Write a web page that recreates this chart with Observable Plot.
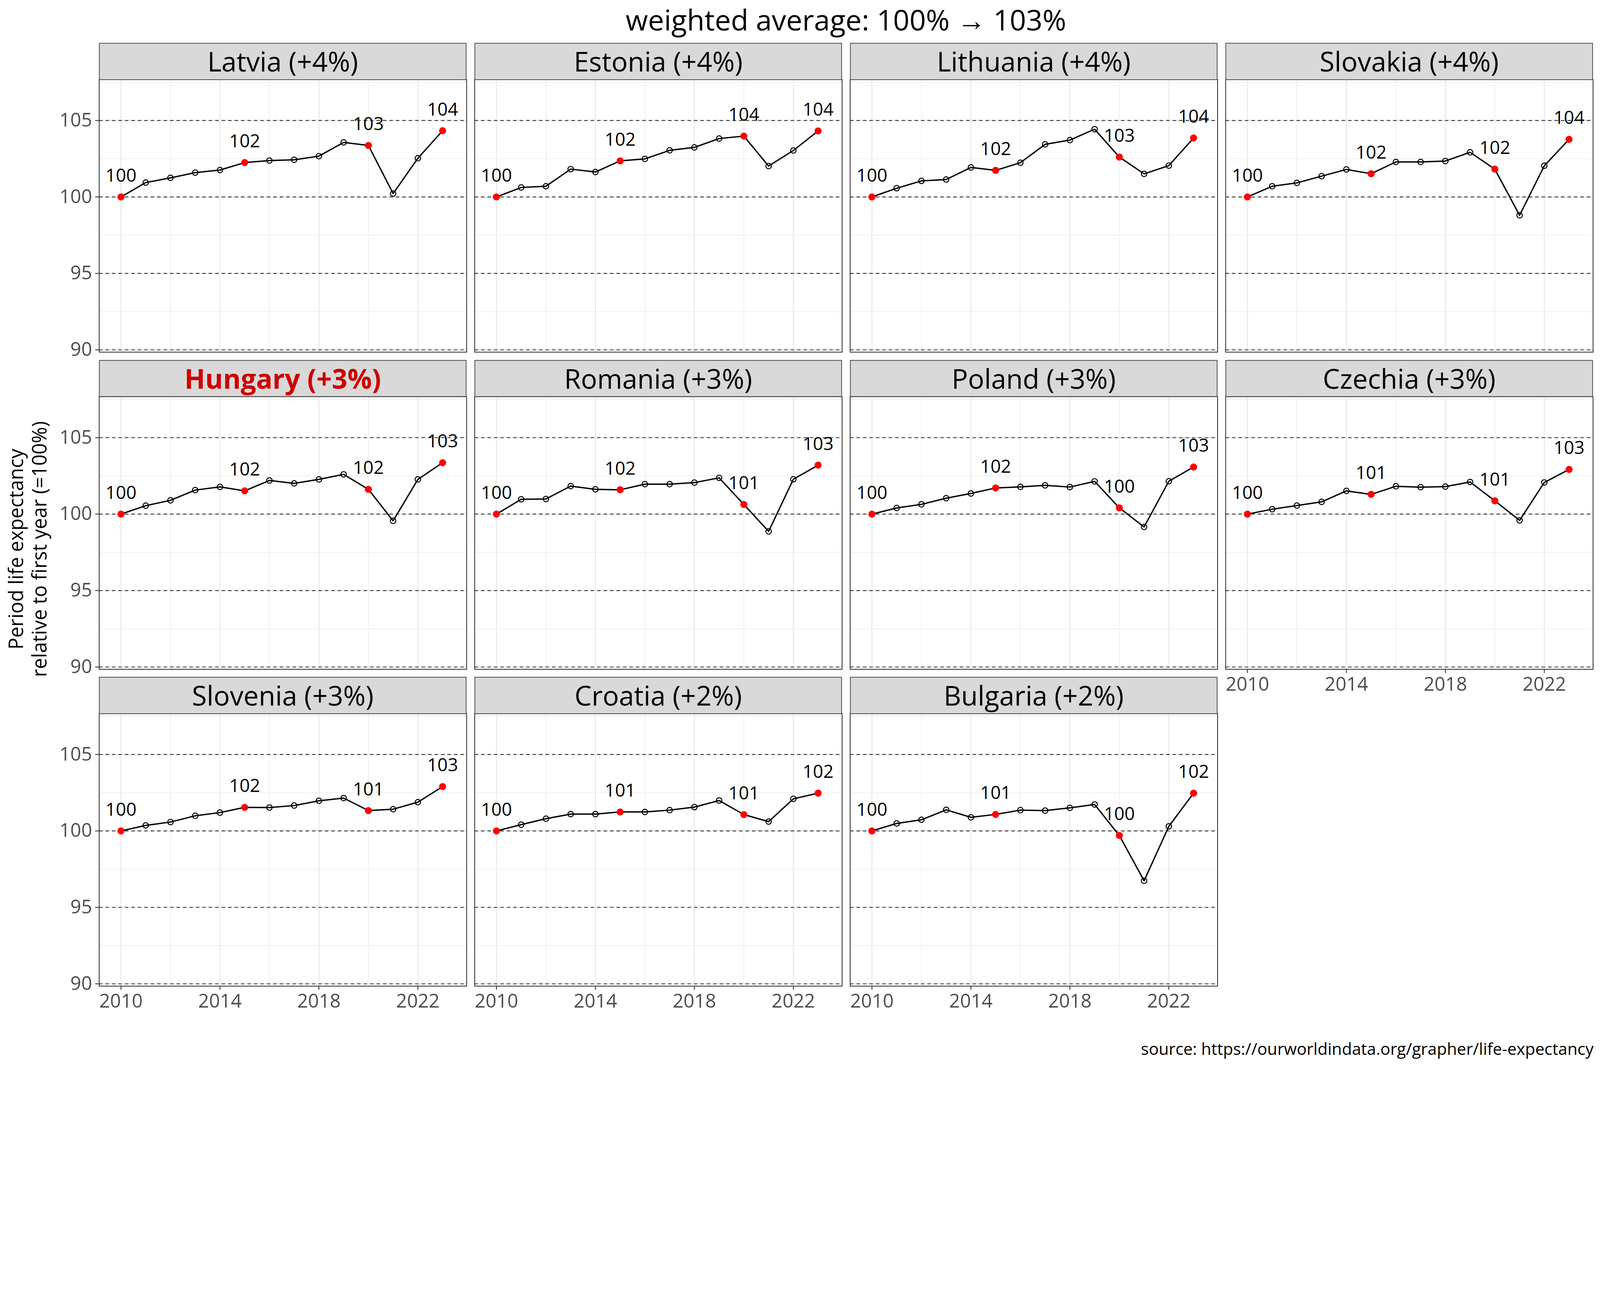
<!DOCTYPE html>
<html>
<head>
<meta charset="utf-8">
<script src="https://cdn.jsdelivr.net/npm/d3@7"></script>
<script src="https://cdn.jsdelivr.net/npm/@observablehq/plot@0.6"></script>
<style>
  html, body { margin: 0; padding: 0; background: #fff; overflow: hidden; }
  #wrap { position: relative; overflow: hidden; background: #fff; }
  #root { position: absolute; left: 0; top: 0; width: 4960px; height: 3307px; overflow: hidden; background: #fff;
          font-family: "Open Sans", "Noto Sans", sans-serif; color: #000; transform-origin: 0 0; }
  .strip { position: absolute; box-sizing: border-box; background: #D9D9D9; border: 2.6px solid #333;
           display: flex; align-items: center; justify-content: center; font-size: 84px; line-height: 1; white-space: nowrap; }
  .strip.hl { color: #CD0000; font-weight: bold; }
  .panel { position: absolute; }
  .title { position: absolute; text-align: center; font-size: 89px; line-height: 1; white-space: nowrap; }
  .caption { position: absolute; text-align: right; font-size: 51px; line-height: 1; white-space: nowrap; }
  .ytitle { position: absolute; text-align: center; font-size: 61px; line-height: 73px; white-space: nowrap;
            transform: rotate(-90deg); transform-origin: center center; }
</style>
</head>
<body>
<div id="wrap"><div id="root"></div></div>
<script>
// ---------------- data ----------------
const years = [2010, 2011, 2012, 2013, 2014, 2015, 2016, 2017, 2018, 2019, 2020, 2021, 2022, 2023];
const countries = ["Latvia", "Estonia", "Lithuania", "Slovakia", "Hungary", "Romania", "Poland", "Czechia", "Slovenia", "Croatia", "Bulgaria"];
const changeLabels = ["+4%", "+4%", "+4%", "+4%", "+3%", "+3%", "+3%", "+3%", "+3%", "+2%", "+2%"];
const highlight = "Hungary";
const labelYears = [2010, 2015, 2020, 2023];

const latvia    = [100, 100.94, 101.25, 101.59, 101.76, 102.25, 102.38, 102.43, 102.67, 103.57, 103.37, 100.22, 102.53, 104.33];
const estonia   = [100, 100.62, 100.70, 101.82, 101.63, 102.36, 102.49, 103.05, 103.24, 103.82, 103.98, 102.02, 103.04, 104.32];
const lithuania = [100, 100.57, 101.05, 101.14, 101.93, 101.74, 102.24, 103.44, 103.72, 104.43, 102.61, 101.51, 102.05, 103.86];
const slovakia  = [100, 100.70, 100.92, 101.36, 101.80, 101.52, 102.29, 102.29, 102.35, 102.92, 101.82, 98.80, 102.04, 103.77];
const hungary   = [100, 100.55, 100.90, 101.57, 101.78, 101.52, 102.20, 102.01, 102.27, 102.60, 101.62, 99.56, 102.27, 103.36];
const romania   = [100, 100.97, 100.99, 101.83, 101.62, 101.59, 101.96, 101.96, 102.06, 102.37, 100.63, 98.87, 102.28, 103.20];
const poland    = [100, 100.40, 100.64, 101.04, 101.35, 101.71, 101.78, 101.88, 101.77, 102.14, 100.41, 99.16, 102.15, 103.08];
const czechia   = [100, 100.32, 100.56, 100.80, 101.52, 101.29, 101.82, 101.76, 101.80, 102.10, 100.87, 99.59, 102.07, 102.92];
const slovenia  = [100, 100.36, 100.58, 100.99, 101.20, 101.54, 101.53, 101.66, 101.97, 102.15, 101.33, 101.42, 101.88, 102.90];
const croatia   = [100, 100.41, 100.80, 101.10, 101.10, 101.24, 101.24, 101.36, 101.56, 101.99, 101.07, 100.61, 102.10, 102.47];
const bulgaria  = [100, 100.49, 100.73, 101.38, 100.89, 101.08, 101.36, 101.33, 101.51, 101.73, 99.70, 96.74, 100.30, 102.47];

const seriesValues = [latvia, estonia, lithuania, slovakia, hungary, romania, poland, czechia, slovenia, croatia, bulgaria];

const xMajor = [2010, 2014, 2018, 2022];
const xMinor = [2012, 2016, 2020];
const yMajor = [90, 95, 100, 105];
const yMinor = [92.5, 97.5, 102.5, 107.5];

const titleText = "weighted average: 100% \u2192 103%";
const yTitleLines = ["Period life expectancy", "relative to first year (=100%)"];
const captionText = "source: https://ourworldindata.org/grapher/life-expectancy";

// ---------------- layout ----------------
const wrap = document.getElementById("wrap");
const root = document.getElementById("root");
const DESIGN_W = 4960, DESIGN_H = 3307;
const NCOL = 4;
const colLeft = [307, 1471, 2635, 3799];
const stripTop = [133, 1115.5, 2098];
const PW = 1139, STRIP_H = 113, PH = 845;
const FONT = '"Open Sans", "Noto Sans", sans-serif';

function makePanel(idx) {
  const country = countries[idx];
  const values = seriesValues[idx];
  const col = idx % NCOL, row = Math.floor(idx / NCOL);
  const showY = col === 0;
  const showX = (idx + NCOL) >= countries.length; // no panel below
  const data = years.map((year, i) => ({year, v: values[i]}));
  const lab = data.filter(d => labelYears.includes(d.year));
  const open = data.filter(d => !labelYears.includes(d.year));
  const ml = showY ? 160 : 0;
  const mb = showX ? 120 : 0;

  const chart = Plot.plot({
    width: PW + ml,
    height: PH + mb,
    marginLeft: ml, marginRight: 0, marginTop: 0, marginBottom: mb,
    x: {domain: [2009.12, 2023.97], axis: null},
    y: {domain: [89.85, 107.68], axis: null},
    style: {background: "transparent", fontFamily: FONT, overflow: "visible"},
    marks: [
      Plot.frame({fill: "white"}),
      Plot.gridY(yMinor, {stroke: "#EBEBEB", strokeOpacity: 1, strokeWidth: 1.8}),
      Plot.gridX(xMinor, {stroke: "#EBEBEB", strokeOpacity: 1, strokeWidth: 1.8}),
      Plot.gridY(yMajor, {stroke: "#EBEBEB", strokeOpacity: 1, strokeWidth: 3.4}),
      Plot.gridX(xMajor, {stroke: "#EBEBEB", strokeOpacity: 1, strokeWidth: 3.4}),
      Plot.ruleY(yMajor, {stroke: "#333", strokeWidth: 2.6, strokeDasharray: "11,9"}),
      Plot.line(data, {x: "year", y: "v", stroke: "black", strokeWidth: 4.2}),
      Plot.dot(open, {x: "year", y: "v", r: 8.5, stroke: "black", strokeWidth: 3, fill: "none"}),
      Plot.dot(lab, {x: "year", y: "v", r: 11, fill: "red", stroke: "none"}),
      Plot.text(lab, {x: "year", y: d => d.v + 1, text: d => String(Math.round(d.v)),
                      lineAnchor: "bottom", fontSize: 56, fill: "black"}),
      Plot.frame({stroke: "#333", strokeWidth: 2.6}),
      showX ? Plot.axisX(xMajor, {label: null, tickSize: 12, tickPadding: 13, fontSize: 59, fill: "#4D4D4D",
                                  stroke: "#333", strokeWidth: 2.6, tickFormat: d => `${d}`}) : null,
      showY ? Plot.axisY(yMajor, {label: null, anchor: "left", tickSize: 12, tickPadding: 10, fontSize: 59, fill: "#4D4D4D",
                                  stroke: "#333", strokeWidth: 2.6, tickFormat: d => `${d}`}) : null
    ]
  });

  const holder = document.createElement("div");
  holder.className = "panel";
  holder.style.left = (colLeft[col] - ml) + "px";
  holder.style.top = (stripTop[row] + STRIP_H) + "px";
  holder.appendChild(chart);
  root.appendChild(holder);

  const strip = document.createElement("div");
  strip.className = "strip" + (country === highlight ? " hl" : "");
  strip.style.left = colLeft[col] + "px";
  strip.style.top = stripTop[row] + "px";
  strip.style.width = PW + "px";
  strip.style.height = (STRIP_H + 1.5) + "px";
  strip.textContent = `${country} (${changeLabels[idx]})`;
  root.appendChild(strip);
}

countries.forEach((c, i) => makePanel(i));

// title
const title = document.createElement("div");
title.className = "title";
title.style.left = colLeft[0] + "px";
title.style.width = (colLeft[NCOL - 1] + PW - colLeft[0]) + "px";
title.style.top = "16px";
title.textContent = titleText;
root.appendChild(title);

// y-axis title (rotated)
const yt = document.createElement("div");
yt.className = "ytitle";
const ytW = 1200, ytH = 146, ytCx = 84, ytCy = 1702;
yt.style.width = ytW + "px";
yt.style.height = ytH + "px";
yt.style.left = (ytCx - ytW / 2) + "px";
yt.style.top = (ytCy - ytH / 2) + "px";
yt.innerHTML = yTitleLines.map(s => `<div>${s}</div>`).join("");
root.appendChild(yt);

// caption
const cap = document.createElement("div");
cap.className = "caption";
cap.style.right = (DESIGN_W - 4940) + "px";
cap.style.top = "3224px";
cap.textContent = captionText;
root.appendChild(cap);

// fit the design canvas to the window without enlarging the page
function fit() {
  const s = Math.min(window.innerWidth / DESIGN_W, window.innerHeight / DESIGN_H);
  root.style.transform = `scale(${s})`;
  const w = DESIGN_W * s, h = DESIGN_H * s;
  wrap.style.width = w + "px";
  wrap.style.height = h + "px";
  document.documentElement.style.height = h + "px";
  document.body.style.height = h + "px";
  document.body.style.width = w + "px";
}
fit();
window.addEventListener("resize", fit);
</script>
</body>
</html>
